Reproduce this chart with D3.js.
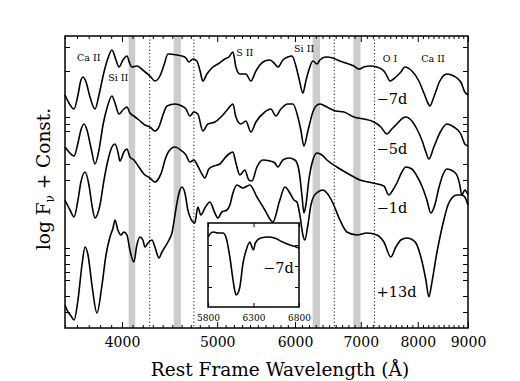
<!DOCTYPE html>
<html>
<head>
<meta charset="utf-8">
<script src="https://cdn.jsdelivr.net/npm/d3@7"></script>
<style>
body { margin: 0; background: #fff; }
text { font-family: "DejaVu Serif", serif; fill: #000; }
</style>
</head>
<body>
<div id="plot"></div>
<script>
// spectra: rest wavelength (A) and log flux + offset (arbitrary units)
var m7Wave = [3500,3533,3575,3608,3633,3651,3677,3711,3755,3790,3835,3871,3907,3944,3972,4009,4047,4075,4094,4142,4211,4271,4321,4372,4414,4455,4550,4603,4647,4679,4723,4767,4801,4835,4881,4938,5008,5091,5139,5188,5224,5273,5348,5411,5475,5526,5591,5657,5724,5764,5832,5901,5957,6013,6055,6112,6155,6198,6257,6317,6361,6451,6557,6666,6760,6888,6969,7052,7151,7270,7390,7442,7494,7600,7690,7762,7891,8021,8116,8192,8230,8308,8425,8564,8706,8850,8933,9000];
var m7Flux = [233,225,219,233,248,251,246,231,219,233,256,270,278,268,261,268,272,264,261,262,257,252,247,252,263,274,273,272,270,266,269,267,258,247,254,260,264,269,271,276,261,254,254,247,257,263,267,268,264,261,268,271,272,262,250,235,247,258,267,264,268,271,270,267,265,262,259,261,262,261,257,252,247,251,256,261,257,247,235,225,222,231,247,254,252,246,236,233];

var m5Wave = [3500,3533,3575,3608,3633,3659,3685,3720,3755,3790,3826,3862,3907,3935,3972,4009,4047,4075,4113,4162,4221,4271,4321,4362,4403,4445,4529,4603,4647,4690,4734,4778,4835,4892,4973,5044,5127,5188,5224,5285,5348,5411,5475,5591,5670,5737,5805,5901,5971,6041,6083,6127,6184,6257,6302,6361,6436,6526,6603,6729,6888,7052,7219,7338,7442,7529,7618,7726,7780,7891,7984,8078,8154,8211,8308,8445,8564,8706,8850,8933,9000];
var m5Flux = [181,176,172,185,198,204,198,180,164,178,203,220,232,225,214,218,221,215,212,208,203,201,197,201,213,222,224,222,219,212,216,214,197,204,206,211,219,224,211,204,207,196,206,216,219,212,219,224,224,211,198,182,197,216,222,224,222,219,217,216,211,209,206,201,194,199,204,210,211,207,199,188,176,169,181,197,204,201,194,184,182];

var m1Wave = [3500,3541,3575,3608,3633,3668,3702,3728,3755,3799,3835,3871,3907,3935,3962,3981,4018,4047,4075,4113,4162,4211,4271,4321,4362,4393,4424,4466,4529,4603,4647,4690,4734,4778,4824,4858,4903,4961,5032,5091,5139,5188,5224,5273,5335,5385,5424,5488,5565,5657,5724,5764,5832,5915,5999,6055,6098,6127,6155,6198,6257,6317,6391,6466,6619,6776,6986,7202,7390,7476,7547,7618,7708,7780,7891,7984,8078,8173,8249,8327,8405,8484,8564,8686,8767,8829,8870,8933,9000];
var m1Flux = [128,118,111,128,146,156,143,123,110,123,148,168,181,184,176,167,176,179,171,168,161,154,150,146,150,157,168,177,181,177,173,166,168,162,154,150,159,162,164,170,174,176,165,153,158,148,147,161,168,167,165,161,168,170,168,158,133,115,123,148,168,175,173,168,161,155,148,145,142,133,138,145,156,161,159,152,142,128,115,123,140,153,159,157,153,143,133,138,133];

var p13Wave = [3500,3525,3550,3575,3608,3642,3668,3694,3728,3772,3817,3853,3889,3917,3935,3962,3990,4018,4047,4075,4113,4142,4172,4201,4221,4251,4291,4321,4362,4393,4424,4466,4497,4529,4550,4582,4603,4636,4668,4701,4745,4778,4812,4858,4915,4973,5008,5055,5115,5151,5188,5237,5310,5398,5488,5591,5697,5791,5860,5929,5985,6027,6069,6112,6141,6184,6228,6272,6332,6406,6466,6557,6666,6776,6936,7101,7270,7390,7511,7600,7690,7799,7909,7965,8059,8154,8211,8268,8366,8445,8504,8604,8767,8870,8933,9000];
var p13Flux = [23,16,12,8,28,63,81,73,43,15,43,73,91,100,108,98,93,96,93,78,66,83,91,88,81,85,88,81,70,76,81,88,95,113,125,138,141,135,118,109,105,121,113,120,126,115,110,116,118,123,135,143,140,143,131,118,106,128,141,135,128,126,113,93,88,103,123,132,136,138,135,125,108,96,93,95,93,86,71,81,88,90,88,85,71,48,31,45,75,95,108,125,133,133,131,123];

// inset: -7d spectrum around Si II 6355
var insetWave = [5800,5833,5860,5910,5965,6000,6040,6075,6095,6110,6130,6150,6185,6220,6260,6275,6300,6320,6380,6460,6530,6620,6700,6770,6800];
var insetFlux = [70,74,75,74,74,69,50,27,16,12,14,20,44,57,65,62,57,64,69,70,69,65,62,60,59];

var xMajor = [4000, 5000, 6000, 7000, 8000, 9000];
var yTicks = [281, 257, 211, 204, 197, 164, 148, 80, 73, 64, 56, 48, 32, 16];
var insetXTicks = [5800, 6300, 6800];
var insetYTicks = [20, 41, 62];

// shaded bands and dotted markers
var bands = [[4063, 4126], [4515, 4593], [6253, 6362], [6878, 6995]];
var markers = [4268, 4734, 6579, 7229];

var margin = {left: 65, right: 52, top: 36, bottom: 53};
var w = 520 - margin.left - margin.right;
var h = 381 - margin.top - margin.bottom;

var x = d3.scaleLog().domain([3500, 9000]).range([0, w]);
var y = d3.scaleLinear().domain([0, 292]).range([h, 0]);

var svg = d3.select("#plot").append("svg")
    .attr("width", 520)
    .attr("height", 381)
  .append("g")
    .attr("transform", "translate(" + margin.left + "," + margin.top + ")");

// shaded bands
svg.selectAll(".band")
    .data(bands)
  .enter().append("rect")
    .attr("class", "band")
    .attr("x", function(d) { return x(d[0]); })
    .attr("width", function(d) { return x(d[1]) - x(d[0]); })
    .attr("y", 0)
    .attr("height", h)
    .attr("fill", "#cccccc");

// dotted lines
svg.selectAll(".marker")
    .data(markers)
  .enter().append("line")
    .attr("x1", function(d) { return x(d); })
    .attr("x2", function(d) { return x(d); })
    .attr("y1", 0)
    .attr("y2", h)
    .attr("stroke", "#222")
    .attr("stroke-width", 1.1)
    .attr("stroke-dasharray", "1.1,2.3");

var line = d3.line()
    .curve(d3.curveMonotoneX)
    .x(function(d) { return x(d[0]); })
    .y(function(d) { return y(d[1]); });

function drawSpec(wave, flux) {
  var pts = wave.map(function(d, i) { return [d, flux[i]]; });
  svg.append("path")
      .datum(pts)
      .attr("fill", "none")
      .attr("stroke", "#000")
      .attr("stroke-width", 1.6)
      .attr("stroke-linejoin", "round")
      .attr("d", line);
}
drawSpec(m7Wave, m7Flux);
drawSpec(m5Wave, m5Flux);
drawSpec(m1Wave, m1Flux);
drawSpec(p13Wave, p13Flux);

// axes: ticks inward on all four sides
var xMinor = d3.range(3500, 9001, 100).filter(function(d) { return xMajor.indexOf(d) < 0; });

function styleAxis(g) {
  g.select(".domain").remove();
  g.selectAll("line").attr("stroke", "#000").attr("stroke-width", 1);
  g.selectAll("text").attr("font-family", "DejaVu Serif").attr("font-size", 14);
}

svg.append("g")
    .attr("transform", "translate(0," + h + ")")
    .call(d3.axisBottom(x).tickValues(xMajor).tickFormat(d3.format("d")).tickSizeInner(-6).tickSizeOuter(0).tickPadding(9))
    .call(styleAxis);
svg.append("g")
    .attr("transform", "translate(0," + h + ")")
    .call(d3.axisBottom(x).tickValues(xMinor).tickFormat("").tickSizeInner(-3).tickSizeOuter(0))
    .call(styleAxis);
svg.append("g")
    .call(d3.axisTop(x).tickValues(xMajor).tickFormat("").tickSizeInner(-6).tickSizeOuter(0))
    .call(styleAxis);
svg.append("g")
    .call(d3.axisTop(x).tickValues(xMinor).tickFormat("").tickSizeInner(-3).tickSizeOuter(0))
    .call(styleAxis);
svg.append("g")
    .call(d3.axisLeft(y).tickValues(yTicks).tickFormat("").tickSizeInner(-5).tickSizeOuter(0))
    .call(styleAxis);
svg.append("g")
    .attr("transform", "translate(" + w + ",0)")
    .call(d3.axisRight(y).tickValues(yTicks).tickFormat("").tickSizeInner(-5).tickSizeOuter(0))
    .call(styleAxis);

svg.append("rect")
    .attr("width", w)
    .attr("height", h)
    .attr("fill", "none")
    .attr("stroke", "#000")
    .attr("stroke-width", 1.5);

// line identifications
var ids = [
  {t: "Ca II", l: 3700, f: 267},
  {t: "Si II", l: 3965, f: 247},
  {t: "S II", l: 5335, f: 272},
  {t: "Si II", l: 6130, f: 276},
  {t: "O I", l: 7495, f: 266},
  {t: "Ca II", l: 8290, f: 266}
];
svg.selectAll(".ion")
    .data(ids)
  .enter().append("text")
    .attr("x", function(d) { return x(d.l); })
    .attr("y", function(d) { return y(d.f); })
    .attr("text-anchor", "middle")
    .attr("font-size", 9.5)
    .text(function(d) { return d.t; });

// epochs
var epochs = [
  {t: "\u22127d", f: 224},
  {t: "\u22125d", f: 174},
  {t: "\u22121d", f: 115},
  {t: "+13d", f: 31}
];
svg.selectAll(".epoch")
    .data(epochs)
  .enter().append("text")
    .attr("x", x(7265))
    .attr("y", function(d) { return y(d.f); })
    .attr("font-size", 14.5)
    .text(function(d) { return d.t; });

// inset
var ib = {x: 143, y: 187, w: 91, h: 84};
var ix = d3.scaleLinear().domain([5800, 6800]).range([0, ib.w]);
var iy = d3.scaleLinear().domain([0, 84]).range([ib.h, 0]);
var inset = svg.append("g").attr("transform", "translate(" + ib.x + "," + ib.y + ")");
inset.append("rect")
    .attr("width", ib.w)
    .attr("height", ib.h)
    .attr("fill", "#fff");
inset.append("path")
    .datum(insetWave.map(function(d, i) { return [d, insetFlux[i]]; }))
    .attr("fill", "none")
    .attr("stroke", "#000")
    .attr("stroke-width", 1.6)
    .attr("stroke-linejoin", "round")
    .attr("d", d3.line().curve(d3.curveMonotoneX).x(function(d) { return ix(d[0]); }).y(function(d) { return iy(d[1]); }));
inset.append("g")
    .attr("transform", "translate(0," + ib.h + ")")
    .call(d3.axisBottom(ix).tickValues(insetXTicks).tickFormat(d3.format("d")).tickSizeInner(-4).tickSizeOuter(0).tickPadding(8))
    .call(styleAxis)
    .selectAll("text").attr("font-size", 9);
inset.append("g")
    .call(d3.axisTop(ix).tickValues(insetXTicks).tickFormat("").tickSizeInner(-4).tickSizeOuter(0))
    .call(styleAxis);
inset.append("g")
    .call(d3.axisLeft(iy).tickValues(insetYTicks).tickFormat("").tickSizeInner(-4).tickSizeOuter(0))
    .call(styleAxis);
inset.append("g")
    .attr("transform", "translate(" + ib.w + ",0)")
    .call(d3.axisRight(iy).tickValues(insetYTicks).tickFormat("").tickSizeInner(-4).tickSizeOuter(0))
    .call(styleAxis);
inset.append("rect")
    .attr("width", ib.w)
    .attr("height", ib.h)
    .attr("fill", "none")
    .attr("stroke", "#000")
    .attr("stroke-width", 1.5);
inset.append("text")
    .attr("x", ix(6405))
    .attr("y", iy(34))
    .attr("font-size", 14.5)
    .text("\u22127d");

// axis labels
svg.append("text")
    .attr("x", 215)
    .attr("y", h + 48)
    .attr("text-anchor", "middle")
    .attr("font-size", 18.5)
    .text("Rest Frame Wavelength (\u00c5)");

var yl = svg.append("text")
    .attr("transform", "translate(-15," + (h / 2 - 3) + ") rotate(-90)")
    .attr("text-anchor", "middle")
    .attr("font-size", 18.5);
yl.append("tspan").text("log F");
yl.append("tspan").attr("font-size", 12).attr("dy", 4).text("\u03bd");
yl.append("tspan").attr("dy", -4).text(" + Const.");
</script>
</body>
</html>
